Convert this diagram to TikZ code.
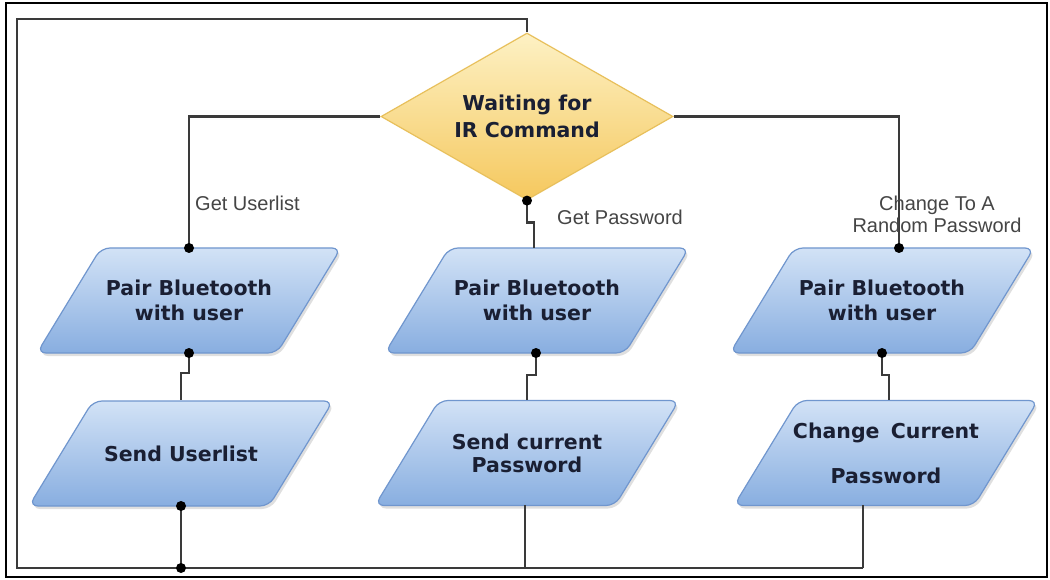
\documentclass[tikz,border=0pt]{standalone}
\usepackage{fontspec}
\setmainfont{DejaVu Sans}
\newfontfamily\lblfont{Liberation Sans}
\usetikzlibrary{shapes.geometric,calc,shadows}

\definecolor{boxtopc}{HTML}{D2E2F6}
\definecolor{boxbotc}{HTML}{88AEE0}
\definecolor{boxlinec}{HTML}{7096CE}
\definecolor{dtopc}{HTML}{FDF1C4}
\definecolor{dbotc}{HTML}{F5C85E}
\definecolor{dlinec}{HTML}{E8C05C}
\definecolor{connc}{HTML}{3A3A3A}
\definecolor{navytext}{HTML}{1A1F33}
\definecolor{lblc}{HTML}{454545}

\newcommand\parabox[4]{%
  \path[parashape] ({#2-88},{#3-52.5}) -- ({#2+152},{#3-52.5}) -- ({#2+88},{#3+52.5}) -- ({#2-152},{#3+52.5}) -- cycle;
  \node[boxtext] (#1) at (#2,#3) {#4};
}

\begin{document}
\begin{tikzpicture}[x=1pt,y=-1pt,
  connector/.style={draw=connc,line width=2.4pt},
  boxtext/.style={font=\fontsize{20.5}{25}\selectfont\bfseries, text=navytext, align=center, inner sep=0pt},
  parashape/.style={top color=boxtopc, bottom color=boxbotc, draw=boxlinec, line width=1.2pt, rounded corners=9pt,
    drop shadow={shadow xshift=2pt, shadow yshift=-3pt, opacity=0.25}},
  lbl/.style={font=\lblfont\fontsize{20}{22}\selectfont, text=lblc, align=center, inner sep=0pt},
  dotc/.style={circle, fill=black, inner sep=0pt, minimum size=10pt}
]
\useasboundingbox (0,0) rectangle (1050,580);
\fill[white] (0,0) rectangle (1050,580);
\draw[black, line width=1.8pt] (6,3) rectangle (1047,577);

% decision
\node[diamond, aspect=1.75, minimum width=292pt, minimum height=167pt, inner sep=0pt,
  top color=dtopc, bottom color=dbotc, draw=dlinec, line width=1.2pt,
  font=\fontsize{20.5}{25}\selectfont\bfseries, text=navytext, align=center] (d) at (527,116.5) {Waiting for\\[2pt]IR Command};

% process boxes
\parabox{p1}{189}{300.5}{Pair Bluetooth\\with user}
\parabox{s1}{181}{453.5}{Send Userlist}
\parabox{p2}{537}{300.5}{Pair Bluetooth\\with user}
\parabox{s2}{527}{453}{Send current\\[-2pt]Password}
\parabox{p3}{882}{300.5}{Pair Bluetooth\\with user}
\parabox{s3}{886}{453}{Change\hspace{0.55em}Current\\[20pt]Password}

% connection points
\coordinate (p1t) at (189,248);
\coordinate (p1b) at (189,353);
\coordinate (s1t) at (181,400);
\coordinate (s1b) at (181,506);
\coordinate (p2t) at (534,248);
\coordinate (p2b) at (536,353);
\coordinate (s2t) at (527,400);
\coordinate (s2b) at (525,505);
\coordinate (p3t) at (899,248);
\coordinate (p3b) at (882,353);
\coordinate (s3t) at (889,400);
\coordinate (s3b) at (863,505);
\coordinate (tl) at (17,19);
\coordinate (bl) at (17,568);
\coordinate (bj1) at (181,568);
\coordinate (bj2) at (525,568);
\coordinate (br) at (863,568);

% connectors
\draw[connector] (d.west) -| (p1t);
\draw[connector] (d.east) -| (p3t);
\draw[connector] (d.south) -- ++(0,22) -| (p2t);
\draw[connector] (p1b) -- ++(0,20) -| (s1t);
\draw[connector] (p2b) -- ++(0,22) -| (s2t);
\draw[connector] (p3b) -- ++(0,22) -| (s3t);
\draw[connector] (s1b) -- (bj1);
\draw[connector] (s2b) -- (bj2);
\draw[connector] (s3b) -- (br);
\draw[connector] (br) -- (bl) -- (tl) -| (d.north);

% labels
\node[lbl, anchor=west] (l1) at (195,203) {Get Userlist};
\node[lbl, anchor=west] (l2) at (557,217) {Get Password};
\node[lbl] (l3) at (937,214) {Change To A\\Random Password};

% dots
\foreach \c in {p1t,p1b,s1b,bj1,p3t,p3b,p2b}
  \node[dotc] at (\c) {};
\node[dotc] at (d.south) {};
\end{tikzpicture}
\end{document}
